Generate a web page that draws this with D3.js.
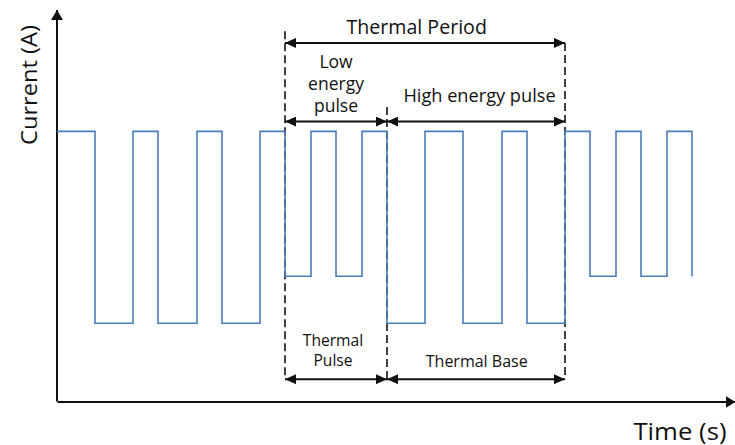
<!DOCTYPE html>
<html><head><meta charset="utf-8">
<script src="https://cdn.jsdelivr.net/npm/d3@7"></script>
<style>html,body{margin:0;padding:0;background:#fff;} svg{display:block;}</style>
</head><body>
<svg id="chart" width="735" height="445"></svg>
<script>
// ---- data ----
const stepTimes    = [0, 38, 76, 101, 140, 165, 203, 228, 254, 279, 305, 330, 368, 406, 445, 470, 508, 533, 559, 584, 610, 635];
const stepCurrents = [69, 20, 69, 20, 69, 20, 69, 32, 69, 32, 69, 20, 69, 20, 69, 20, 69, 32, 69, 32, 69, 32];
const boundaryTimes = [228, 330, 508];
const boundaryTops  = [94.6, 75.2, 91.6];
const spanFrom   = [228, 228, 330, 228, 330];
const spanTo     = [508, 330, 508, 330, 508];
const spanLevel  = [91.6, 71.5, 71.5, 5.7, 5.7];
const labelLines = [["Thermal Period"], ["Low", "energy", "pulse"], ["High energy pulse"], ["Thermal", "Pulse"], ["Thermal Base"]];
const labelTime  = [359.7, 279, 422.5, 276, 419.7];
const labelLevel = [93.8, 85.1, 76.6, 14.2, 8.9];
const xTitle = "Time (s)";
const yTitle = "Current (A)";

// ---- styles ----
const labelSize  = [19.6, 17.5, 18.2, 15.6, 16];
const labelLead  = [0, 21.7, 0, 20, 0];

// ---- drawing ----
const svg = d3.select("#chart");
const x = d3.scaleLinear().domain([0, 678]).range([57, 735]);
const y = d3.scaleLinear().domain([0, 100]).range([401.5, 10]);
const font = "'Open Sans', 'Noto Sans', sans-serif";
const ink = "#111";

const defs = svg.append("defs");
function marker(id, size, w) {
  defs.append("marker").attr("id", id).attr("markerUnits", "userSpaceOnUse")
    .attr("viewBox", `0 ${-w} ${size} ${2 * w}`).attr("refX", size).attr("refY", 0)
    .attr("markerWidth", size).attr("markerHeight", 2 * w).attr("orient", "auto-start-reverse")
    .append("path").attr("d", `M0,${-w}L${size},0L0,${w}Z`).attr("fill", ink);
}
marker("axisArrow", 10, 6);
marker("spanArrow", 11, 5);

// axes
const xAxis = svg.append("g").attr("transform", `translate(0,${y(0)})`)
  .call(d3.axisBottom(x).tickValues([]).tickSizeOuter(0));
xAxis.select(".domain").attr("stroke", ink).attr("stroke-width", 2).attr("marker-end", "url(#axisArrow)");
const yAxis = svg.append("g").attr("transform", `translate(${x(0)},0)`)
  .call(d3.axisLeft(y).tickValues([]).tickSizeOuter(0));
yAxis.select(".domain").attr("stroke", ink).attr("stroke-width", 2).attr("marker-end", "url(#axisArrow)")
  .attr("d", `M0,${y(0)}V${y(100)}`);

// dashed boundaries
svg.append("g").selectAll("line").data(boundaryTimes).join("line")
  .attr("x1", d => x(d)).attr("x2", d => x(d))
  .attr("y1", (d, i) => y(boundaryTops[i])).attr("y2", y(5.7))
  .attr("stroke", ink).attr("stroke-width", 1.6).attr("stroke-dasharray", "8,4");

// waveform
const pts = stepTimes.map((t, i) => [t, stepCurrents[i]]);
svg.append("path").datum(pts)
  .attr("d", d3.line().x(d => x(d[0])).y(d => y(d[1])).curve(d3.curveStepAfter))
  .attr("fill", "none").attr("stroke", "#4a7ebb").attr("stroke-width", 1.6);

// span arrows
svg.append("g").selectAll("line").data(spanFrom).join("line")
  .attr("x1", d => x(d)).attr("x2", (d, i) => x(spanTo[i]))
  .attr("y1", (d, i) => y(spanLevel[i])).attr("y2", (d, i) => y(spanLevel[i]))
  .attr("stroke", ink).attr("stroke-width", 2)
  .attr("marker-start", "url(#spanArrow)").attr("marker-end", "url(#spanArrow)");

// span labels
labelLines.forEach((lines, i) => {
  const cx = x(labelTime[i]);
  const t = svg.append("text").attr("x", cx).attr("y", y(labelLevel[i]))
    .attr("text-anchor", "middle").attr("font-family", font).attr("font-size", labelSize[i]).attr("fill", ink);
  lines.forEach((ln, j) => t.append("tspan").attr("x", cx).attr("dy", j ? labelLead[i] : 0).text(ln));
});

// axis titles
svg.append("text").attr("transform", "translate(680,439.5) scale(1.12,1)").attr("text-anchor", "middle")
  .attr("font-family", font).attr("font-size", 23).attr("fill", ink).text(xTitle);
svg.append("text").attr("transform", "translate(36.5,85) rotate(-90) scale(1.05,1)").attr("text-anchor", "middle")
  .attr("font-family", font).attr("font-size", 22.5).attr("fill", ink).text(yTitle);
</script>
</body></html>
